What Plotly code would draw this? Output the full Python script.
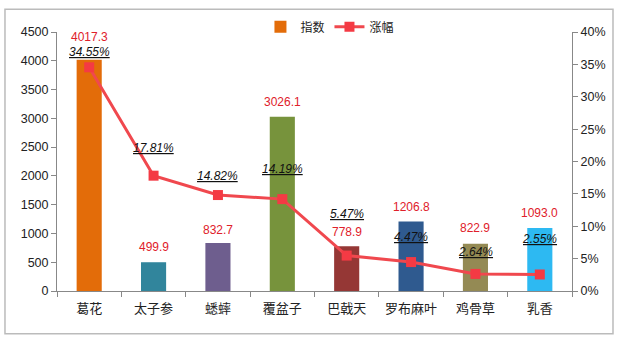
import plotly.graph_objects as go

categories = ["葛花", "太子参", "蟋蟀", "覆盆子", "巴戟天", "罗布麻叶", "鸡骨草", "乳香"]
index_values = [4017.3, 499.9, 832.7, 3026.1, 778.9, 1206.8, 822.9, 1093.0]
growth_pct = [34.55, 17.81, 14.82, 14.19, 5.47, 4.47, 2.64, 2.55]
bar_colors = ["#E36C09", "#31859C", "#6E5E8E", "#77933C", "#953735", "#2F5A8F", "#948A54", "#2DB9F2"]
# label offsets (pixels) as placed in the original
pct_label_shift = [15, 28, 19, 30, 42, 25, 22, 35]
bar_label_shift = [23, 15, 13, 15, 14, 15, 16, 15]

font_family = "Liberation Sans, Noto Sans CJK SC, sans-serif"

fig = go.Figure()
fig.add_trace(go.Bar(
    x=categories, y=index_values, name="指数",
    marker=dict(color=bar_colors, line=dict(width=0)),
    width=0.39,
    yaxis="y",
))
fig.add_trace(go.Scatter(
    x=categories, y=[p / 100 for p in growth_pct], name="涨幅",
    mode="lines+markers",
    line=dict(color="#F0484E", width=3),
    marker=dict(symbol="square", size=10, color="#F43A44"),
    yaxis="y2",
))
for i, v in enumerate(index_values):
    fig.add_annotation(
        x=categories[i], y=v, yref="y", xref="x",
        text=f"{v:.1f}", showarrow=False, yshift=bar_label_shift[i],
        font=dict(color="#E0202A", size=12, family=font_family),
    )
for i, p in enumerate(growth_pct):
    fig.add_annotation(
        x=categories[i], y=p / 100, yref="y2", xref="x",
        text=f"<i><u>{p:.2f}%</u></i>",
        showarrow=False, yshift=pct_label_shift[i],
        font=dict(color="#111111", size=12, family=font_family),
    )

fig.update_layout(
    width=618, height=340,
    margin=dict(l=57, r=46, t=30, b=49),
    paper_bgcolor="white", plot_bgcolor="white",
    font=dict(family=font_family, size=12, color="#222222"),
    showlegend=True,
    legend=dict(orientation="h", x=0.53, xanchor="center", y=1.02, yanchor="middle",
                font=dict(size=12, family="Noto Sans CJK SC, sans-serif"),
                bgcolor="rgba(0,0,0,0)"),
    xaxis=dict(showline=True, linecolor="#888888", linewidth=1, ticks="outside",
               tickson="boundaries", ticklen=5, tickcolor="#888888",
               ticklabelstandoff=5,
               tickfont=dict(family="Noto Sans CJK SC, sans-serif", size=13),
               showgrid=False),
    yaxis=dict(range=[0, 4500], dtick=500, showline=True, linecolor="#888888",
               ticks="outside", ticklen=5, tickcolor="#888888", showgrid=False,
               zeroline=False, tickfont=dict(size=12.5)),
    yaxis2=dict(range=[0, 0.4], dtick=0.05, tickformat=".0%", overlaying="y", side="right",
                showline=True, linecolor="#888888", ticks="outside", ticklen=5,
                tickcolor="#888888", showgrid=False, zeroline=False, tickfont=dict(size=12.5)),
    shapes=[dict(type="rect", xref="paper", yref="paper",
                 x0=-0.101, x1=1.0796, y0=-0.165, y1=1.088,
                 line=dict(color="#BBBBBB", width=1.5), fillcolor="rgba(0,0,0,0)", layer="below")],
)

fig.write_html("out.html")
